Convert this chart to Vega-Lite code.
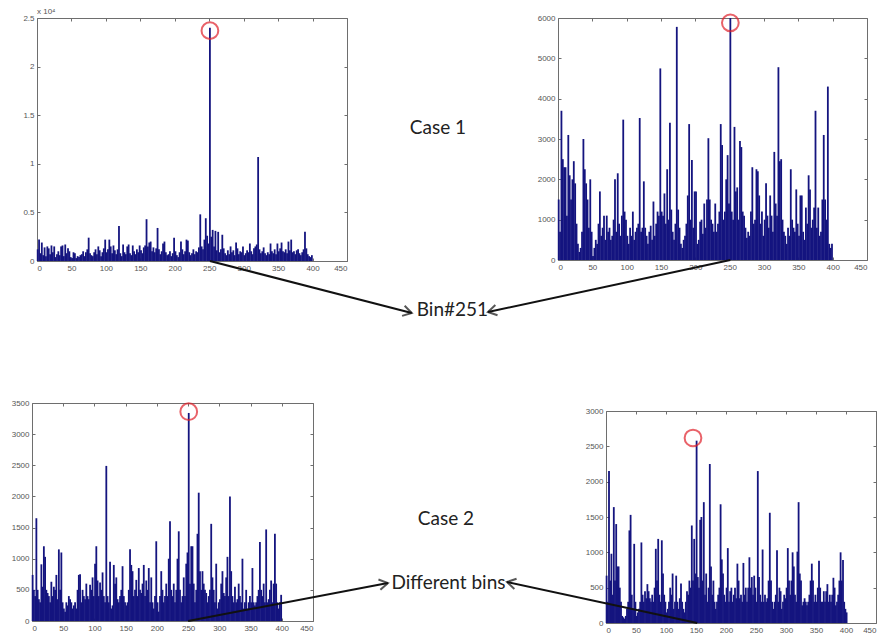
{
"$schema": "https://vega.github.io/schema/vega-lite/v6.json",
"padding": {"left": 10, "top": 7, "right": 0, "bottom": 0},
"background": "white",
"config": {
 "view": {"stroke": "#6e6e6e", "strokeWidth": 1},
 "axis": {"labelFont": "Liberation Sans", "labelFontSize": 8, "labelColor": "#555555", "tickColor": "#6e6e6e", "tickSize": -3, "labelPadding": 6, "domain": false, "grid": false, "format": "d"}
},
"datasets": {
 "tl": [{"b":1,"v":1200},{"b":3,"v":2200},{"b":5,"v":800},{"b":7,"v":1900},{"b":9,"v":600},{"b":11,"v":1400},{"b":13,"v":500},{"b":15,"v":1500},{"b":17,"v":1300},{"b":19,"v":700},{"b":21,"v":1600},{"b":23,"v":900},{"b":25,"v":1500},{"b":27,"v":400},{"b":29,"v":700},{"b":31,"v":1000},{"b":33,"v":600},{"b":35,"v":1500},{"b":37,"v":1600},{"b":39,"v":500},{"b":41,"v":1700},{"b":43,"v":800},{"b":45,"v":1300},{"b":47,"v":1000},{"b":49,"v":400},{"b":51,"v":300},{"b":53,"v":900},{"b":55,"v":800},{"b":57,"v":300},{"b":59,"v":500},{"b":61,"v":400},{"b":63,"v":600},{"b":65,"v":700},{"b":67,"v":1000},{"b":69,"v":500},{"b":71,"v":900},{"b":73,"v":1200},{"b":75,"v":2400},{"b":77,"v":800},{"b":79,"v":600},{"b":81,"v":500},{"b":83,"v":900},{"b":85,"v":1200},{"b":87,"v":700},{"b":89,"v":1500},{"b":91,"v":1100},{"b":93,"v":500},{"b":95,"v":900},{"b":97,"v":1300},{"b":99,"v":2200},{"b":101,"v":900},{"b":103,"v":1200},{"b":105,"v":2200},{"b":107,"v":1500},{"b":109,"v":800},{"b":111,"v":1600},{"b":113,"v":1100},{"b":115,"v":700},{"b":117,"v":1200},{"b":119,"v":3600},{"b":121,"v":800},{"b":123,"v":500},{"b":125,"v":1700},{"b":127,"v":900},{"b":129,"v":700},{"b":131,"v":1500},{"b":133,"v":1700},{"b":135,"v":800},{"b":137,"v":600},{"b":139,"v":1600},{"b":141,"v":1000},{"b":143,"v":700},{"b":145,"v":1200},{"b":147,"v":900},{"b":149,"v":1600},{"b":151,"v":1100},{"b":153,"v":800},{"b":155,"v":1400},{"b":157,"v":1600},{"b":159,"v":4300},{"b":161,"v":1500},{"b":163,"v":1900},{"b":165,"v":2000},{"b":167,"v":1000},{"b":169,"v":1400},{"b":171,"v":900},{"b":173,"v":1300},{"b":175,"v":3400},{"b":177,"v":1200},{"b":179,"v":700},{"b":181,"v":1000},{"b":183,"v":1800},{"b":185,"v":2000},{"b":187,"v":900},{"b":189,"v":600},{"b":191,"v":700},{"b":193,"v":1000},{"b":195,"v":500},{"b":197,"v":800},{"b":199,"v":2400},{"b":201,"v":1000},{"b":203,"v":600},{"b":205,"v":400},{"b":207,"v":900},{"b":209,"v":2000},{"b":211,"v":1200},{"b":213,"v":700},{"b":215,"v":1000},{"b":217,"v":2200},{"b":219,"v":2100},{"b":221,"v":900},{"b":223,"v":600},{"b":225,"v":800},{"b":227,"v":1200},{"b":229,"v":700},{"b":231,"v":1000},{"b":233,"v":900},{"b":235,"v":1400},{"b":237,"v":4800},{"b":239,"v":1500},{"b":241,"v":1200},{"b":243,"v":2200},{"b":245,"v":4400},{"b":247,"v":2600},{"b":249,"v":1800},{"b":251,"v":24000},{"b":253,"v":2500},{"b":255,"v":3200},{"b":257,"v":1500},{"b":259,"v":3100},{"b":261,"v":1100},{"b":263,"v":3000},{"b":265,"v":900},{"b":267,"v":1200},{"b":269,"v":2700},{"b":271,"v":1300},{"b":273,"v":800},{"b":275,"v":600},{"b":277,"v":1100},{"b":279,"v":700},{"b":281,"v":1500},{"b":283,"v":900},{"b":285,"v":1100},{"b":287,"v":600},{"b":289,"v":1900},{"b":291,"v":1300},{"b":293,"v":700},{"b":295,"v":1000},{"b":297,"v":900},{"b":299,"v":1500},{"b":301,"v":600},{"b":303,"v":800},{"b":305,"v":1100},{"b":307,"v":900},{"b":309,"v":1800},{"b":311,"v":1000},{"b":313,"v":700},{"b":315,"v":1300},{"b":317,"v":1500},{"b":319,"v":1700},{"b":321,"v":10700},{"b":323,"v":1200},{"b":325,"v":800},{"b":327,"v":1000},{"b":329,"v":1400},{"b":331,"v":800},{"b":333,"v":600},{"b":335,"v":900},{"b":337,"v":700},{"b":339,"v":1800},{"b":341,"v":1000},{"b":343,"v":800},{"b":345,"v":1200},{"b":347,"v":700},{"b":349,"v":1800},{"b":351,"v":1000},{"b":353,"v":1300},{"b":355,"v":1900},{"b":357,"v":1000},{"b":359,"v":900},{"b":361,"v":1200},{"b":363,"v":800},{"b":365,"v":2000},{"b":367,"v":1100},{"b":369,"v":2200},{"b":371,"v":900},{"b":373,"v":1000},{"b":375,"v":700},{"b":377,"v":1100},{"b":379,"v":1200},{"b":381,"v":800},{"b":383,"v":600},{"b":385,"v":900},{"b":387,"v":1200},{"b":389,"v":3000},{"b":391,"v":1300},{"b":393,"v":700},{"b":395,"v":500},{"b":397,"v":400},{"b":399,"v":600}],
 "tr": [{"b":1,"v":1500},{"b":3,"v":700},{"b":5,"v":3700},{"b":7,"v":2500},{"b":9,"v":2300},{"b":11,"v":2300},{"b":13,"v":1100},{"b":15,"v":3100},{"b":17,"v":2100},{"b":19,"v":1500},{"b":21,"v":2000},{"b":23,"v":2450},{"b":25,"v":1900},{"b":27,"v":900},{"b":29,"v":400},{"b":31,"v":200},{"b":33,"v":300},{"b":35,"v":700},{"b":37,"v":3000},{"b":39,"v":2250},{"b":41,"v":1900},{"b":43,"v":1500},{"b":45,"v":800},{"b":47,"v":2000},{"b":49,"v":700},{"b":51,"v":100},{"b":53,"v":300},{"b":55,"v":500},{"b":57,"v":400},{"b":59,"v":900},{"b":61,"v":1700},{"b":63,"v":600},{"b":65,"v":800},{"b":67,"v":1100},{"b":69,"v":500},{"b":71,"v":1100},{"b":73,"v":700},{"b":75,"v":800},{"b":77,"v":500},{"b":79,"v":600},{"b":81,"v":1000},{"b":83,"v":2000},{"b":85,"v":700},{"b":87,"v":2150},{"b":89,"v":900},{"b":91,"v":600},{"b":93,"v":1100},{"b":95,"v":3480},{"b":97,"v":1200},{"b":99,"v":1000},{"b":101,"v":600},{"b":103,"v":400},{"b":105,"v":800},{"b":107,"v":600},{"b":109,"v":1200},{"b":111,"v":500},{"b":113,"v":700},{"b":115,"v":800},{"b":117,"v":900},{"b":119,"v":3520},{"b":121,"v":700},{"b":123,"v":800},{"b":125,"v":1950},{"b":127,"v":800},{"b":129,"v":600},{"b":131,"v":400},{"b":133,"v":700},{"b":135,"v":850},{"b":137,"v":500},{"b":139,"v":1450},{"b":141,"v":600},{"b":143,"v":900},{"b":145,"v":1200},{"b":147,"v":1100},{"b":149,"v":4750},{"b":151,"v":1200},{"b":153,"v":1100},{"b":155,"v":1650},{"b":157,"v":900},{"b":159,"v":2250},{"b":161,"v":1000},{"b":163,"v":3400},{"b":165,"v":1250},{"b":167,"v":700},{"b":169,"v":500},{"b":171,"v":900},{"b":173,"v":5780},{"b":175,"v":1250},{"b":177,"v":800},{"b":179,"v":400},{"b":181,"v":300},{"b":183,"v":500},{"b":185,"v":600},{"b":187,"v":900},{"b":189,"v":1600},{"b":191,"v":3370},{"b":193,"v":1000},{"b":195,"v":2480},{"b":197,"v":800},{"b":199,"v":1700},{"b":201,"v":1700},{"b":203,"v":400},{"b":205,"v":500},{"b":207,"v":950},{"b":209,"v":1000},{"b":211,"v":650},{"b":213,"v":1400},{"b":215,"v":800},{"b":217,"v":1500},{"b":219,"v":3020},{"b":221,"v":1500},{"b":223,"v":1000},{"b":225,"v":900},{"b":227,"v":700},{"b":229,"v":1400},{"b":231,"v":700},{"b":233,"v":900},{"b":235,"v":1200},{"b":237,"v":3370},{"b":239,"v":2850},{"b":241,"v":1000},{"b":243,"v":1200},{"b":245,"v":2000},{"b":247,"v":2600},{"b":249,"v":1400},{"b":251,"v":6000},{"b":253,"v":1200},{"b":255,"v":1000},{"b":257,"v":3300},{"b":259,"v":1700},{"b":261,"v":1800},{"b":263,"v":1000},{"b":265,"v":2950},{"b":267,"v":2800},{"b":269,"v":1200},{"b":271,"v":1100},{"b":273,"v":800},{"b":275,"v":550},{"b":277,"v":700},{"b":279,"v":600},{"b":281,"v":1200},{"b":283,"v":2300},{"b":285,"v":900},{"b":287,"v":1000},{"b":289,"v":2250},{"b":291,"v":2200},{"b":293,"v":1600},{"b":295,"v":900},{"b":297,"v":1200},{"b":299,"v":600},{"b":301,"v":1000},{"b":303,"v":1900},{"b":305,"v":1100},{"b":307,"v":800},{"b":309,"v":1600},{"b":311,"v":1100},{"b":313,"v":700},{"b":315,"v":2680},{"b":317,"v":1400},{"b":319,"v":1100},{"b":321,"v":4780},{"b":323,"v":2450},{"b":325,"v":2500},{"b":327,"v":1000},{"b":329,"v":700},{"b":331,"v":600},{"b":333,"v":400},{"b":335,"v":800},{"b":337,"v":600},{"b":339,"v":2250},{"b":341,"v":1000},{"b":343,"v":800},{"b":345,"v":700},{"b":347,"v":1750},{"b":349,"v":900},{"b":351,"v":600},{"b":353,"v":1600},{"b":355,"v":1600},{"b":357,"v":700},{"b":359,"v":500},{"b":361,"v":1300},{"b":363,"v":900},{"b":365,"v":2100},{"b":367,"v":1750},{"b":369,"v":800},{"b":371,"v":1000},{"b":373,"v":1300},{"b":375,"v":3700},{"b":377,"v":800},{"b":379,"v":1300},{"b":381,"v":600},{"b":383,"v":700},{"b":385,"v":1500},{"b":387,"v":3100},{"b":389,"v":1500},{"b":391,"v":1000},{"b":393,"v":4300},{"b":395,"v":400},{"b":397,"v":300},{"b":399,"v":400}],
 "bl": [{"b":1,"v":740},{"b":3,"v":500},{"b":5,"v":400},{"b":7,"v":1650},{"b":9,"v":500},{"b":11,"v":350},{"b":13,"v":300},{"b":15,"v":910},{"b":17,"v":550},{"b":19,"v":1200},{"b":21,"v":1030},{"b":23,"v":500},{"b":25,"v":450},{"b":27,"v":400},{"b":29,"v":300},{"b":31,"v":630},{"b":33,"v":400},{"b":35,"v":550},{"b":37,"v":500},{"b":39,"v":740},{"b":41,"v":350},{"b":43,"v":1150},{"b":45,"v":500},{"b":47,"v":1100},{"b":49,"v":300},{"b":51,"v":200},{"b":53,"v":150},{"b":55,"v":300},{"b":57,"v":250},{"b":59,"v":400},{"b":61,"v":350},{"b":63,"v":300},{"b":65,"v":200},{"b":67,"v":250},{"b":69,"v":300},{"b":71,"v":200},{"b":73,"v":500},{"b":75,"v":740},{"b":77,"v":750},{"b":79,"v":300},{"b":81,"v":500},{"b":83,"v":400},{"b":85,"v":350},{"b":87,"v":600},{"b":89,"v":400},{"b":91,"v":350},{"b":93,"v":580},{"b":95,"v":500},{"b":97,"v":700},{"b":99,"v":400},{"b":101,"v":920},{"b":103,"v":1200},{"b":105,"v":650},{"b":107,"v":400},{"b":109,"v":620},{"b":111,"v":500},{"b":113,"v":780},{"b":115,"v":400},{"b":117,"v":300},{"b":119,"v":2490},{"b":121,"v":400},{"b":123,"v":300},{"b":125,"v":950},{"b":127,"v":200},{"b":129,"v":250},{"b":131,"v":900},{"b":133,"v":600},{"b":135,"v":700},{"b":137,"v":350},{"b":139,"v":300},{"b":141,"v":400},{"b":143,"v":500},{"b":145,"v":880},{"b":147,"v":400},{"b":149,"v":300},{"b":151,"v":250},{"b":153,"v":300},{"b":155,"v":500},{"b":157,"v":1150},{"b":159,"v":900},{"b":161,"v":800},{"b":163,"v":400},{"b":165,"v":500},{"b":167,"v":660},{"b":169,"v":400},{"b":171,"v":850},{"b":173,"v":500},{"b":175,"v":450},{"b":177,"v":600},{"b":179,"v":900},{"b":181,"v":400},{"b":183,"v":650},{"b":185,"v":500},{"b":187,"v":850},{"b":189,"v":300},{"b":191,"v":700},{"b":193,"v":300},{"b":195,"v":200},{"b":197,"v":400},{"b":199,"v":1280},{"b":201,"v":300},{"b":203,"v":150},{"b":205,"v":400},{"b":207,"v":800},{"b":209,"v":500},{"b":211,"v":300},{"b":213,"v":400},{"b":215,"v":600},{"b":217,"v":400},{"b":219,"v":1000},{"b":221,"v":1600},{"b":223,"v":500},{"b":225,"v":400},{"b":227,"v":600},{"b":229,"v":300},{"b":231,"v":500},{"b":233,"v":1000},{"b":235,"v":1440},{"b":237,"v":500},{"b":239,"v":300},{"b":241,"v":400},{"b":243,"v":700},{"b":245,"v":400},{"b":247,"v":920},{"b":249,"v":1100},{"b":251,"v":3340},{"b":253,"v":600},{"b":255,"v":1200},{"b":257,"v":1200},{"b":259,"v":600},{"b":261,"v":300},{"b":263,"v":500},{"b":265,"v":1400},{"b":267,"v":2060},{"b":269,"v":800},{"b":271,"v":500},{"b":273,"v":800},{"b":275,"v":600},{"b":277,"v":500},{"b":279,"v":450},{"b":281,"v":300},{"b":283,"v":400},{"b":285,"v":500},{"b":287,"v":1560},{"b":289,"v":700},{"b":291,"v":500},{"b":293,"v":300},{"b":295,"v":920},{"b":297,"v":200},{"b":299,"v":300},{"b":301,"v":350},{"b":303,"v":600},{"b":305,"v":800},{"b":307,"v":450},{"b":309,"v":400},{"b":311,"v":700},{"b":313,"v":1030},{"b":315,"v":400},{"b":317,"v":2000},{"b":319,"v":800},{"b":321,"v":400},{"b":323,"v":300},{"b":325,"v":550},{"b":327,"v":300},{"b":329,"v":350},{"b":331,"v":600},{"b":333,"v":400},{"b":335,"v":300},{"b":337,"v":1000},{"b":339,"v":200},{"b":341,"v":300},{"b":343,"v":500},{"b":345,"v":200},{"b":347,"v":300},{"b":349,"v":400},{"b":351,"v":300},{"b":353,"v":850},{"b":355,"v":300},{"b":357,"v":250},{"b":359,"v":300},{"b":361,"v":400},{"b":363,"v":500},{"b":365,"v":1270},{"b":367,"v":500},{"b":369,"v":400},{"b":371,"v":600},{"b":373,"v":300},{"b":375,"v":1470},{"b":377,"v":300},{"b":379,"v":350},{"b":381,"v":500},{"b":383,"v":650},{"b":385,"v":300},{"b":387,"v":600},{"b":389,"v":1400},{"b":391,"v":600},{"b":393,"v":300},{"b":395,"v":200},{"b":397,"v":300},{"b":399,"v":420}],
 "br": [{"b":1,"v":670},{"b":3,"v":300},{"b":5,"v":2150},{"b":7,"v":600},{"b":9,"v":980},{"b":11,"v":400},{"b":13,"v":1640},{"b":15,"v":600},{"b":17,"v":1400},{"b":19,"v":800},{"b":21,"v":800},{"b":23,"v":500},{"b":25,"v":300},{"b":27,"v":100},{"b":29,"v":80},{"b":31,"v":60},{"b":33,"v":100},{"b":35,"v":200},{"b":37,"v":300},{"b":39,"v":1310},{"b":41,"v":1530},{"b":43,"v":400},{"b":45,"v":200},{"b":47,"v":1120},{"b":49,"v":300},{"b":51,"v":100},{"b":53,"v":150},{"b":55,"v":200},{"b":57,"v":300},{"b":59,"v":1140},{"b":61,"v":400},{"b":63,"v":300},{"b":65,"v":450},{"b":67,"v":350},{"b":69,"v":550},{"b":71,"v":450},{"b":73,"v":350},{"b":75,"v":300},{"b":77,"v":400},{"b":79,"v":300},{"b":81,"v":500},{"b":83,"v":1050},{"b":85,"v":600},{"b":87,"v":1190},{"b":89,"v":400},{"b":91,"v":300},{"b":93,"v":1170},{"b":95,"v":700},{"b":97,"v":400},{"b":99,"v":300},{"b":101,"v":150},{"b":103,"v":200},{"b":105,"v":300},{"b":107,"v":500},{"b":109,"v":400},{"b":111,"v":700},{"b":113,"v":200},{"b":115,"v":300},{"b":117,"v":670},{"b":119,"v":300},{"b":121,"v":200},{"b":123,"v":350},{"b":125,"v":560},{"b":127,"v":300},{"b":129,"v":200},{"b":131,"v":150},{"b":133,"v":300},{"b":135,"v":450},{"b":137,"v":400},{"b":139,"v":600},{"b":141,"v":500},{"b":143,"v":1380},{"b":145,"v":600},{"b":147,"v":1190},{"b":149,"v":700},{"b":151,"v":2580},{"b":153,"v":650},{"b":155,"v":500},{"b":157,"v":1460},{"b":159,"v":1500},{"b":161,"v":600},{"b":163,"v":1710},{"b":165,"v":400},{"b":167,"v":700},{"b":169,"v":300},{"b":171,"v":500},{"b":173,"v":2250},{"b":175,"v":800},{"b":177,"v":400},{"b":179,"v":600},{"b":181,"v":300},{"b":183,"v":200},{"b":185,"v":300},{"b":187,"v":400},{"b":189,"v":500},{"b":191,"v":1680},{"b":193,"v":900},{"b":195,"v":700},{"b":197,"v":400},{"b":199,"v":300},{"b":201,"v":500},{"b":203,"v":1060},{"b":205,"v":300},{"b":207,"v":450},{"b":209,"v":500},{"b":211,"v":300},{"b":213,"v":400},{"b":215,"v":500},{"b":217,"v":350},{"b":219,"v":840},{"b":221,"v":600},{"b":223,"v":350},{"b":225,"v":400},{"b":227,"v":300},{"b":229,"v":850},{"b":231,"v":400},{"b":233,"v":500},{"b":235,"v":300},{"b":237,"v":500},{"b":239,"v":930},{"b":241,"v":500},{"b":243,"v":650},{"b":245,"v":400},{"b":247,"v":670},{"b":249,"v":500},{"b":251,"v":300},{"b":253,"v":2150},{"b":255,"v":650},{"b":257,"v":400},{"b":259,"v":300},{"b":261,"v":1040},{"b":263,"v":300},{"b":265,"v":400},{"b":267,"v":300},{"b":269,"v":350},{"b":271,"v":600},{"b":273,"v":1560},{"b":275,"v":600},{"b":277,"v":300},{"b":279,"v":200},{"b":281,"v":300},{"b":283,"v":400},{"b":285,"v":1030},{"b":287,"v":300},{"b":289,"v":500},{"b":291,"v":450},{"b":293,"v":200},{"b":295,"v":300},{"b":297,"v":400},{"b":299,"v":350},{"b":301,"v":500},{"b":303,"v":1060},{"b":305,"v":600},{"b":307,"v":400},{"b":309,"v":600},{"b":311,"v":1000},{"b":313,"v":800},{"b":315,"v":400},{"b":317,"v":300},{"b":319,"v":1010},{"b":321,"v":1710},{"b":323,"v":700},{"b":325,"v":600},{"b":327,"v":250},{"b":329,"v":300},{"b":331,"v":350},{"b":333,"v":300},{"b":335,"v":250},{"b":337,"v":300},{"b":339,"v":400},{"b":341,"v":600},{"b":343,"v":840},{"b":345,"v":600},{"b":347,"v":300},{"b":349,"v":400},{"b":351,"v":300},{"b":353,"v":500},{"b":355,"v":880},{"b":357,"v":500},{"b":359,"v":300},{"b":361,"v":300},{"b":363,"v":450},{"b":365,"v":300},{"b":367,"v":450},{"b":369,"v":550},{"b":371,"v":300},{"b":373,"v":400},{"b":375,"v":300},{"b":377,"v":400},{"b":379,"v":640},{"b":381,"v":500},{"b":383,"v":250},{"b":385,"v":300},{"b":387,"v":400},{"b":389,"v":600},{"b":391,"v":1000},{"b":393,"v":600},{"b":395,"v":890},{"b":397,"v":300},{"b":399,"v":200},{"b":401,"v":150}]
},
"spacing": 77,
"vconcat": [
 {"bounds": "flush", "spacing": 4, "hconcat": [
  {"width": 1, "height": 1, "view": {"stroke": null}, "data": {"values": []}, "mark": {"type": "point", "opacity": 0}, "encoding": {}},
  {"bounds": "flush", "spacing": 211, "hconcat": [
   {"width": 310, "height": 243,
    "resolve": {"axis": {"x": "independent", "y": "independent"}},
    "layer": [
     {"data": {"name": "tl"}, "mark": {"type": "rule", "color": "#14147f", "strokeWidth": 1.8},
      "encoding": {
       "x": {"field": "b", "type": "quantitative", "scale": {"domain": [0, 450], "nice": false, "zero": false}, "axis": {"title": null, "orient": "bottom", "values": [0,50,100,150,200,250,300,350,400,450]}},
       "y": {"field": "v", "type": "quantitative", "scale": {"domain": [0, 25000], "nice": false}, "axis": {"title": null, "orient": "left", "values": [0,5000,10000,15000,20000,25000], "labelExpr": "datum.value/10000"}},
       "y2": {"datum": 0}}},
     {"data": {"values": [{}]}, "mark": {"type": "point", "shape": "circle", "filled": false, "color": "#e0202a", "strokeWidth": 2, "size": 280},
      "encoding": {
       "x": {"datum": 251, "type": "quantitative", "axis": {"title": null, "orient": "top", "labels": false, "values": [0,50,100,150,200,250,300,350,400,450]}},
       "y": {"datum": 23700, "type": "quantitative", "axis": {"title": null, "orient": "right", "labels": false, "values": [0,5000,10000,15000,20000,25000]}}}},
     {"data": {"values": [{}]}, "mark": {"type": "text", "text": "x 10⁴", "font": "Liberation Sans", "fontSize": 8, "color": "#555555", "align": "left", "baseline": "bottom", "dy": -2},
      "encoding": {"x": {"datum": 0, "type": "quantitative", "axis": null}, "y": {"datum": 25000, "type": "quantitative", "axis": null}}},
     {"data": {"values": [{}]}, "mark": {"type": "rule", "color": "#111111", "strokeWidth": 2},
      "encoding": {"x": {"datum": 251, "type": "quantitative", "axis": null}, "y": {"datum": 0, "type": "quantitative", "axis": null}, "x2": {"datum": 544}, "y2": {"datum": -5350}}},
     {"data": {"values": [{}]}, "mark": {"type": "point", "shape": "M-1,-0.6L0,0L-1,0.6", "filled": false, "color": "#111111", "strokeWidth": 2, "size": 300, "angle": 14.3},
      "encoding": {"x": {"datum": 544, "type": "quantitative", "axis": null}, "y": {"datum": -5350, "type": "quantitative", "axis": null}}},
     {"data": {"values": [{}]}, "mark": {"type": "text", "text": "Bin#251", "font": "Lato", "fontSize": 19, "color": "#222222", "align": "center", "baseline": "middle"},
      "encoding": {"x": {"datum": 603, "type": "quantitative", "axis": null}, "y": {"datum": -5041, "type": "quantitative", "axis": null}}},
     {"data": {"values": [{}]}, "mark": {"type": "text", "text": "Case 1", "font": "Lato", "fontSize": 19, "color": "#222222", "align": "center", "baseline": "middle"},
      "encoding": {"x": {"datum": 582, "type": "quantitative", "axis": null}, "y": {"datum": 13683, "type": "quantitative", "axis": null}}}
    ]},
   {"width": 309, "height": 242,
    "resolve": {"axis": {"x": "independent", "y": "independent"}},
    "layer": [
     {"data": {"name": "tr"}, "mark": {"type": "rule", "color": "#14147f", "strokeWidth": 1.8},
      "encoding": {
       "x": {"field": "b", "type": "quantitative", "scale": {"domain": [0, 450], "nice": false, "zero": false}, "axis": {"title": null, "orient": "bottom", "values": [0,50,100,150,200,250,300,350,400,450]}},
       "y": {"field": "v", "type": "quantitative", "scale": {"domain": [0, 6000], "nice": false}, "axis": {"title": null, "orient": "left", "values": [0,1000,2000,3000,4000,5000,6000]}},
       "y2": {"datum": 0}}},
     {"data": {"values": [{}]}, "mark": {"type": "point", "shape": "circle", "filled": false, "color": "#e0202a", "strokeWidth": 2, "size": 280},
      "encoding": {
       "x": {"datum": 251, "type": "quantitative", "axis": {"title": null, "orient": "top", "labels": false, "values": [0,50,100,150,200,250,300,350,400,450]}},
       "y": {"datum": 5880, "type": "quantitative", "axis": {"title": null, "orient": "right", "labels": false, "values": [0,1000,2000,3000,4000,5000,6000]}}}},
     {"data": {"values": [{}]}, "mark": {"type": "rule", "color": "#111111", "strokeWidth": 2},
      "encoding": {"x": {"datum": 251, "type": "quantitative", "axis": null}, "y": {"datum": 0, "type": "quantitative", "axis": null}, "x2": {"datum": -102}, "y2": {"datum": -1289}}},
     {"data": {"values": [{}]}, "mark": {"type": "point", "shape": "M-1,-0.6L0,0L-1,0.6", "filled": false, "color": "#111111", "strokeWidth": 2, "size": 300, "angle": 167.9},
      "encoding": {"x": {"datum": -102, "type": "quantitative", "axis": null}, "y": {"datum": -1289, "type": "quantitative", "axis": null}}}
    ]}
  ]}
 ]},
 {"bounds": "flush", "spacing": 293, "hconcat": [
  {"width": 281, "height": 218,
   "resolve": {"axis": {"x": "independent", "y": "independent"}},
   "layer": [
    {"data": {"name": "bl"}, "mark": {"type": "rule", "color": "#14147f", "strokeWidth": 1.8},
     "encoding": {
      "x": {"field": "b", "type": "quantitative", "scale": {"domain": [0, 450], "nice": false, "zero": false}, "axis": {"title": null, "orient": "bottom", "values": [0,50,100,150,200,250,300,350,400,450]}},
      "y": {"field": "v", "type": "quantitative", "scale": {"domain": [0, 3500], "nice": false}, "axis": {"title": null, "orient": "left", "values": [0,500,1000,1500,2000,2500,3000,3500]}},
      "y2": {"datum": 0}}},
    {"data": {"values": [{}]}, "mark": {"type": "point", "shape": "circle", "filled": false, "color": "#e0202a", "strokeWidth": 2, "size": 280},
     "encoding": {
      "x": {"datum": 251, "type": "quantitative", "axis": {"title": null, "orient": "top", "labels": false, "values": [0,50,100,150,200,250,300,350,400,450]}},
      "y": {"datum": 3360, "type": "quantitative", "axis": {"title": null, "orient": "right", "labels": false, "values": [0,500,1000,1500,2000,2500,3000,3500]}}}},
    {"data": {"values": [{}]}, "mark": {"type": "rule", "color": "#111111", "strokeWidth": 2},
     "encoding": {"x": {"datum": 250, "type": "quantitative", "axis": null}, "y": {"datum": 0, "type": "quantitative", "axis": null}, "x2": {"datum": 570}, "y2": {"datum": 610}}},
    {"data": {"values": [{}]}, "mark": {"type": "point", "shape": "M-1,-0.6L0,0L-1,0.6", "filled": false, "color": "#111111", "strokeWidth": 2, "size": 300, "angle": -10.8},
     "encoding": {"x": {"datum": 570, "type": "quantitative", "axis": null}, "y": {"datum": 610, "type": "quantitative", "axis": null}}},
    {"data": {"values": [{}]}, "mark": {"type": "text", "text": "Different bins", "font": "Lato", "fontSize": 19, "color": "#222222", "align": "center", "baseline": "middle"},
     "encoding": {"x": {"datum": 667, "type": "quantitative", "axis": null}, "y": {"datum": 610, "type": "quantitative", "axis": null}}},
    {"data": {"values": [{}]}, "mark": {"type": "text", "text": "Case 2", "font": "Lato", "fontSize": 19, "color": "#222222", "align": "center", "baseline": "middle"},
     "encoding": {"x": {"datum": 663, "type": "quantitative", "axis": null}, "y": {"datum": 1638, "type": "quantitative", "axis": null}}}
   ]},
  {"bounds": "flush", "spacing": 7, "vconcat": [
   {"width": 1, "height": 1, "view": {"stroke": null}, "data": {"values": []}, "mark": {"type": "point", "opacity": 0}, "encoding": {}},
   {"width": 270, "height": 212,
    "resolve": {"axis": {"x": "independent", "y": "independent"}},
    "layer": [
     {"data": {"name": "br"}, "mark": {"type": "rule", "color": "#14147f", "strokeWidth": 1.8},
      "encoding": {
       "x": {"field": "b", "type": "quantitative", "scale": {"domain": [0, 450], "nice": false, "zero": false}, "axis": {"title": null, "orient": "bottom", "labelFlush": true, "values": [0,50,100,150,200,250,300,350,400,450]}},
       "y": {"field": "v", "type": "quantitative", "scale": {"domain": [0, 3000], "nice": false}, "axis": {"title": null, "orient": "left", "values": [0,500,1000,1500,2000,2500,3000]}},
       "y2": {"datum": 0}}},
     {"data": {"values": [{}]}, "mark": {"type": "point", "shape": "circle", "filled": false, "color": "#e0202a", "strokeWidth": 2, "size": 280},
      "encoding": {
       "x": {"datum": 145, "type": "quantitative", "axis": {"title": null, "orient": "top", "labels": false, "values": [0,50,100,150,200,250,300,350,400,450]}},
       "y": {"datum": 2618, "type": "quantitative", "axis": {"title": null, "orient": "right", "labels": false, "values": [0,500,1000,1500,2000,2500,3000]}}}},
     {"data": {"values": [{}]}, "mark": {"type": "rule", "color": "#111111", "strokeWidth": 2},
      "encoding": {"x": {"datum": 152, "type": "quantitative", "axis": null}, "y": {"datum": 0, "type": "quantitative", "axis": null}, "x2": {"datum": -165}, "y2": {"datum": 580}}},
     {"data": {"values": [{}]}, "mark": {"type": "point", "shape": "M-1,-0.6L0,0L-1,0.6", "filled": false, "color": "#111111", "strokeWidth": 2, "size": 300, "angle": -167.8},
      "encoding": {"x": {"datum": -165, "type": "quantitative", "axis": null}, "y": {"datum": 580, "type": "quantitative", "axis": null}}}
    ]}
  ]}
 ]}
]
}
